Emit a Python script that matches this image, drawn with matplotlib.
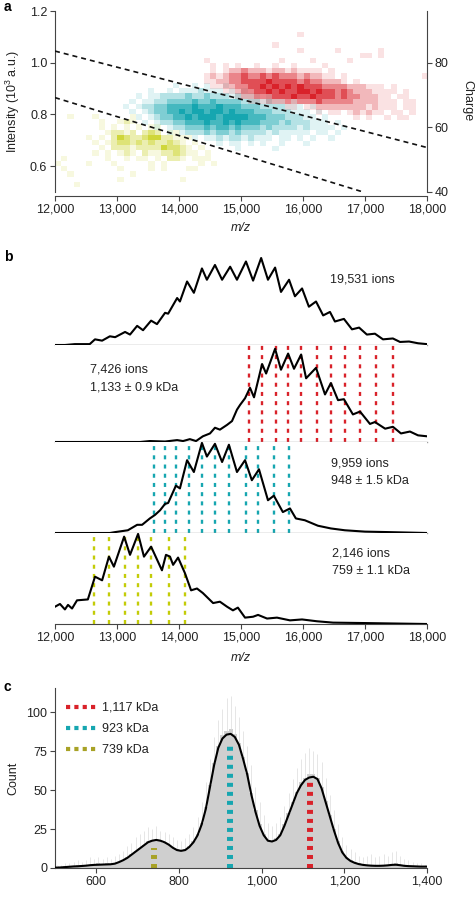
import numpy as np
import matplotlib
matplotlib.use('Agg')
import matplotlib.pyplot as plt
from matplotlib.colors import to_rgb
from matplotlib.lines import Line2D
from matplotlib.ticker import FuncFormatter

plt.rcParams['font.family'] = ['Liberation Sans', 'DejaVu Sans']
plt.rcParams['font.size'] = 9
plt.rcParams['mathtext.fontset'] = 'custom'
plt.rcParams['mathtext.rm'] = 'Liberation Sans'
plt.rcParams['mathtext.it'] = 'Liberation Sans:italic'

RED = '#d9222a'
CYAN = '#16a6b0'
YELLOW = '#c3cc08'
OLIVE = '#a8a226'
AXIS_GREY = '#444444'
SEP_GREY = '#a0a0a0'
TEXT = '#222222'

# --- Step 1: panel a data (2D ion density, one digit per 100 m/z x 0.02 cell, '.' = empty)
red_mz0, red_top = 14400, 1.12
red_density = [
    "...............1",
    "",
    "...........1",
    "...............1.....1......1",
    ".........................11.1",
    "1...........1....1.....1",
    ".1.1.1..1..1..1....1",
    ".1.1223222122121111.1",
    "121233433434333232211.1............1",
    "11223344445444434332221.1",
    ".1122334454545454443333222111.1",
    "...1123344545445545443432221111.1",
    ".....1223334445445444343322211.11",
    ".......111222323334333332222111.11",
    ".............11.112222222212111.11",
    "..................1.11.121211.11.1",
    "........................1.1..1.11",
]
cyan_mz0, cyan_top = 13000, 0.92
cyan_density = [
    ".........1..1.1..1",
    ".....1..1.1112111.1.1",
    "...1.112222322322212111.1",
    "..1.11223333433433332221211.1",
    ".1.122334444544454443332222111.1",
    "..1.123344545545545444333222111.1",
    "...1.123344545554555544433322211.1",
    "....1.1223344454454544433323222111.1",
    "......1.122333434434333232222121111.1",
    "........1.122232332322221211111.11.1",
    "............1.11212212111.11.1.1..1",
    "................1.11.1.1..1...1",
    "...................1.....1",
]
yellow_mz0, yellow_top = 12000, 0.80
yellow_density = [
    "..1...1.....1",
    ".......1..121",
    ".......1.1.1.1.11",
    "........12212.232.11",
    ".....1.1.2432234422111",
    "......1.1233232322321.1",
    ".......1.2221222243321.1",
    "......1.1.121.211223211.1",
    ".1......1..1.11.1.221.111",
    "1....1...1.....1.1.....1.1",
    ".1........1....1.1...11",
    "..1.........1",
    "..........1.........1",
    "...1",
]
# dashed mass boundaries (m/z, intensity end points)
upper_cut_mz = [12000, 18000]
upper_cut_int = [1.045, 0.672]
lower_cut_mz = [12000, 16970]
lower_cut_int = [0.865, 0.50]

# --- Step 2: panel b spectra (m/z, normalised intensity)
total_mz = [12000, 12160, 12320, 12560, 12645, 12760, 12885, 12970, 13130, 13210,
            13325, 13420, 13550, 13645, 13775, 13825, 13970, 14015, 14130, 14240,
            14370, 14450, 14580, 14695, 14825, 14935, 15080, 15195, 15325, 15435,
            15550, 15645, 15775, 15870, 15985, 16095, 16210, 16325, 16435, 16515,
            16660, 16790, 16905, 17030, 17160, 17290, 17450, 17565, 17710, 17855, 18000]
total_int = [0, 0, 0.01, 0.01, 0.065, 0.05, 0.10, 0.09, 0.15, 0.12,
             0.22, 0.17, 0.28, 0.24, 0.37, 0.36, 0.54, 0.50, 0.73, 0.60,
             0.88, 0.75, 0.92, 0.75, 0.90, 0.75, 0.96, 0.74, 1.0, 0.75,
             0.89, 0.61, 0.75, 0.56, 0.65, 0.44, 0.50, 0.34, 0.38, 0.27,
             0.30, 0.18, 0.20, 0.12, 0.13, 0.065, 0.075, 0.035, 0.04, 0.02, 0.01]

red_mz = [12000, 13370, 13530, 13775, 13970, 14065, 14175, 14275, 14385, 14500,
          14580, 14660, 14775, 14855, 14935, 14985, 15065, 15145, 15210, 15340,
          15405, 15550, 15645, 15760, 15855, 15970, 16050, 16210, 16355, 16450,
          16565, 16660, 16805, 16920, 17080, 17160, 17325, 17450, 17580, 17725, 17855, 18000]
red_int = [0, 0, 0.01, 0.005, 0.02, 0.01, 0.03, 0.01, 0.06, 0.09,
           0.15, 0.13, 0.18, 0.22, 0.34, 0.39, 0.46, 0.57, 0.47, 0.82,
           0.72, 0.98, 0.76, 0.93, 0.77, 0.92, 0.67, 0.78, 0.50, 0.62,
           0.44, 0.45, 0.29, 0.32, 0.19, 0.21, 0.14, 0.16, 0.09, 0.11, 0.07, 0.06]

cyan_mz = [12000, 12885, 12970, 13175, 13325, 13405, 13530, 13615, 13695, 13775,
           13825, 13950, 14015, 14130, 14240, 14370, 14450, 14580, 14695, 14805,
           14935, 15065, 15175, 15290, 15435, 15530, 15675, 15790, 15885, 16030,
           16240, 16450, 16675, 17000, 17370, 18000]
cyan_int = [0, 0, 0.01, 0.03, 0.09, 0.09, 0.16, 0.20, 0.25, 0.32,
            0.33, 0.52, 0.49, 0.80, 0.67, 0.99, 0.84, 0.98, 0.78, 0.97,
            0.67, 0.80, 0.58, 0.70, 0.36, 0.41, 0.23, 0.27, 0.16, 0.14,
            0.08, 0.05, 0.03, 0.015, 0.01, 0]

yellow_mz = [12000, 12080, 12160, 12210, 12275, 12355, 12530, 12645, 12760, 12870,
             12950, 13115, 13210, 13340, 13435, 13550, 13725, 13790, 13855, 13905,
             13985, 14095, 14195, 14290, 14385, 14550, 14660, 14775, 14870, 14950,
             15065, 15195, 15275, 15420, 15580, 15790, 15985, 16225, 16485, 17030, 18000]
yellow_int = [0.19, 0.22, 0.16, 0.21, 0.17, 0.26, 0.27, 0.52, 0.48, 0.74,
              0.63, 0.96, 0.76, 0.99, 0.74, 0.85, 0.59, 0.76, 0.74, 0.65,
              0.73, 0.56, 0.37, 0.39, 0.34, 0.23, 0.245, 0.19, 0.15, 0.18,
              0.07, 0.08, 0.10, 0.06, 0.07, 0.04, 0.05, 0.03, 0.015, 0.01, 0]

# charge-state positions marked with dotted lines
red_states = [15137, 15339, 15557, 15766, 15968, 16218, 16444, 16670, 16920, 17170, 17452]
cyan_states = [13602, 13774, 13952, 14166, 14366, 14581, 14807, 15076, 15279, 15532, 15779]
yellow_states = [12634, 12876, 13129, 13344, 13548, 13839, 14097]

ion_labels = ['19,531 ions', '7,426 ions', '9,959 ions', '2,146 ions']
mass_labels = [None, '1,133 ± 0.9 kDa', '948 ± 1.5 kDa', '759 ± 1.1 kDa']

# --- Step 3: panel c mass histogram (10 kDa bins from 500 to 1400)
hist_edges = np.arange(500, 1401, 10)
hist_counts = [1, 0, 1, 1, 1, 2, 1, 2, 2, 2,
               3, 2, 3, 2, 3, 4, 5, 7, 9, 11,
               13, 15, 17, 18, 18, 17, 16, 15, 13, 12,
               11, 12, 14, 17, 22, 29, 39, 53, 67, 78,
               85, 88, 89, 86, 80, 71, 61, 48, 37, 28,
               22, 18, 17, 19, 22, 28, 35, 42, 49, 55,
               58, 60, 60, 58, 52, 43, 34, 25, 17, 11,
               7, 5, 4, 3, 2, 2, 2, 1, 2, 2,
               2, 2, 3, 2, 1, 1, 1, 1, 1, 1]
hist_max = [2, 2, 3, 3, 4, 5, 4, 5, 7, 6,
            7, 6, 7, 6, 8, 9, 11, 14, 16, 20,
            22, 24, 26, 25, 27, 24, 23, 22, 20, 18,
            17, 19, 22, 26, 33, 42, 55, 70, 84, 95,
            102, 109, 110, 104, 97, 88, 78, 66, 52, 42,
            34, 29, 27, 29, 33, 40, 48, 57, 64, 70,
            74, 77, 75, 73, 68, 58, 47, 37, 28, 20,
            15, 12, 10, 8, 7, 8, 9, 7, 8, 9,
            8, 10, 11, 8, 6, 5, 4, 3, 3, 2]
fit_count = [0.2, 0.4, 0.6, 0.8, 1.0, 1.1, 1.3, 1.5, 1.8, 2.0,
             2.1, 2.2, 2.3, 2.4, 2.8, 3.8, 5.0, 6.5, 8.5, 10.5,
             12.5, 14.5, 16.5, 17.5, 18.0, 17.5, 16.5, 15.0, 13.0, 11.5,
             11.0, 11.5, 13.5, 16.5, 21, 28, 38, 52, 66, 77,
             83, 85.5, 86, 84, 79, 70, 60, 47, 36, 27,
             21, 17.5, 17, 18, 21, 27, 34, 41, 48, 53,
             56.5, 58, 58.5, 57, 51, 42, 33, 24, 16, 10,
             6.5, 4.5, 3.3, 2.5, 2.0, 1.7, 1.5, 1.4, 1.4, 1.5,
             1.7, 2.0, 2.1, 1.8, 1.4, 1.2, 1.1, 1.0, 0.9, 0.9]
species_mass = [1117, 923, 739]
species_height = [57, 81, 13]
species_labels = ['1,117 kDa', '923 kDa', '739 kDa']
species_colors = [RED, CYAN, OLIVE]

# --- Step 4: helpers
W, H = 477, 900
LEVEL_ALPHA = [0.0, 0.13, 0.32, 0.55, 0.8, 1.0]
comma_fmt = FuncFormatter(lambda v, p: f'{v:,.0f}')


def box(x0, y0, x1, y1):
    # pixel rectangle (top-left origin) -> figure fraction
    return [x0 / W, 1 - y1 / H, (x1 - x0) / W, (y1 - y0) / H]


def style_axis(ax):
    ax.tick_params(direction='out', length=3.5, width=0.8, color=AXIS_GREY,
                   labelcolor=TEXT, pad=2, labelsize=9)
    for sp in ax.spines.values():
        sp.set_color(AXIS_GREY)
        sp.set_linewidth(0.8)


def draw_density(ax, rows, mz0, top, color, mz_step=100, int_step=0.02):
    ncol = max(len(r) for r in rows)
    img = np.zeros((len(rows), ncol, 4))
    img[..., :3] = to_rgb(color)
    for i, row in enumerate(rows):
        for j, ch in enumerate(row.ljust(ncol, '.')):
            if ch != '.':
                img[i, j, 3] = LEVEL_ALPHA[int(ch)]
    ax.imshow(img, extent=(mz0, mz0 + ncol * mz_step, top - len(rows) * int_step, top),
              aspect='auto', interpolation='nearest', origin='upper', zorder=2)


fig = plt.figure(figsize=(W / 100, H / 100), dpi=100)

# --- Step 5: panel a
ax_a = fig.add_axes(box(55, 11, 427, 192))
draw_density(ax_a, yellow_density, yellow_mz0, yellow_top, YELLOW)
draw_density(ax_a, cyan_density, cyan_mz0, cyan_top, CYAN)
draw_density(ax_a, red_density, red_mz0, red_top, RED)
ax_a.plot(upper_cut_mz, upper_cut_int, color='#111111', lw=1.2, dashes=(3.0, 2.4), zorder=3)
ax_a.plot(lower_cut_mz, lower_cut_int, color='#111111', lw=1.2, dashes=(3.0, 2.4), zorder=3)
ax_a.set_xlim(12000, 18000)
ax_a.set_ylim(0.5, 1.2)
ax_a.set_xticks(range(12000, 18001, 1000))
ax_a.xaxis.set_major_formatter(comma_fmt)
ax_a.set_yticks([0.6, 0.8, 1.0, 1.2])
ax_a.yaxis.set_major_formatter(FuncFormatter(lambda v, p: f'{v:.1f}'))
style_axis(ax_a)
ax_a.spines['top'].set_visible(False)
ax_a.spines['right'].set_visible(False)
ax_a.spines['bottom'].set_position(('outward', 3))

ax_z = ax_a.twinx()
ax_z.set_ylim(40, 96)
ax_z.set_yticks([40, 60, 80])
style_axis(ax_z)
for side in ['top', 'left', 'bottom']:
    ax_z.spines[side].set_visible(False)

fig.text(13 / W, 1 - 101 / H, 'Intensity (10$^3$ a.u.)', rotation=90,
         ha='center', va='center', color=TEXT)
fig.text(467 / W, 1 - 101 / H, 'Charge', rotation=270, ha='center', va='center', color=TEXT)
fig.text(241 / W, 1 - 228 / H, 'm/z', style='italic', ha='center', va='center', color=TEXT)

# --- Step 6: panel b, four stacked spectra
bands = [(248, 345, 1.115), (345, 442, 1.02), (442, 533, 1.0), (533, 624, 1.0)]
curves = [(total_mz, total_int), (red_mz, red_int), (cyan_mz, cyan_int), (yellow_mz, yellow_int)]
markers = [(None, None), (red_states, RED), (cyan_states, CYAN), (yellow_states, YELLOW)]
label_pos = [(330, 280), (90, 370), (331, 464), (332, 554)]

for k, ((y0, y1, top), (mz, inten), (states, col)) in enumerate(zip(bands, curves, markers)):
    ax = fig.add_axes(box(55, y0, 427, y1))
    ax.set_xlim(12000, 18000)
    ax.set_ylim(0, top)
    if states is not None:
        ax.vlines(states, 0, top, colors=col, lw=1.7, linestyles=(0, (1.7, 2.2)), zorder=1)
    ax.plot(mz, inten, color='black', lw=1.5, solid_joinstyle='round', zorder=3)
    style_axis(ax)
    for side in ['top', 'left', 'right']:
        ax.spines[side].set_visible(False)
    ax.set_yticks([])
    if k < 3:
        ax.spines['bottom'].set_color(SEP_GREY)
        ax.spines['bottom'].set_linewidth(1.0)
        ax.set_xticks([])
    else:
        ax.set_xticks(range(12000, 18001, 1000))
        ax.xaxis.set_major_formatter(comma_fmt)
    lx, ly = label_pos[k]
    fig.text(lx / W, 1 - ly / H, ion_labels[k], va='center', color=TEXT)
    if mass_labels[k]:
        fig.text(lx / W, 1 - (ly + 17) / H, mass_labels[k], va='center', color=TEXT)

fig.text(241 / W, 1 - 658 / H, 'm/z', style='italic', ha='center', va='center', color=TEXT)

# --- Step 7: panel c, mass histogram with fit
ax_c = fig.add_axes(box(55, 688, 427, 868))
centers = (hist_edges[:-1] + hist_edges[1:]) / 2
ax_c.bar(centers, hist_counts, width=10, color='#cfcfcf', linewidth=0, zorder=1)
ax_c.vlines(centers, hist_counts, hist_max, colors='#e2e2e2', lw=0.6, zorder=1)
ax_c.vlines(species_mass, 0, species_height, colors=species_colors, lw=4.3,
            linestyles=(0, (0.67, 0.84)), zorder=2)
ax_c.plot(np.concatenate([[500], centers, [1400]]),
          np.concatenate([[fit_count[0]], fit_count, [fit_count[-1]]]),
          color='black', lw=1.5, zorder=3)
ax_c.set_xlim(500, 1400)
ax_c.set_ylim(0, 115.4)
ax_c.set_xticks([600, 800, 1000, 1200, 1400])
ax_c.xaxis.set_major_formatter(comma_fmt)
ax_c.set_yticks([0, 25, 50, 75, 100])
style_axis(ax_c)
ax_c.spines['top'].set_visible(False)
ax_c.spines['right'].set_visible(False)

handles = [Line2D([], [], color=c, lw=3, dashes=(1, 1)) for c in species_colors]
ax_c.legend(handles, species_labels, loc='upper left', bbox_to_anchor=(66 / W, 1 - 702 / H),
            bbox_transform=fig.transFigure, frameon=False, handlelength=2.5,
            handletextpad=0.35, labelspacing=0.72, borderpad=0, borderaxespad=0,
            labelcolor=TEXT)
fig.text(13 / W, 1 - 778 / H, 'Count', rotation=90, ha='center', va='center', color=TEXT)

# --- Step 8: panel letters
for letter, y in [('a', 7), ('b', 257), ('c', 687)]:
    fig.text(4 / W, 1 - y / H, letter, fontweight='bold', fontsize=10, va='center', color='black')

fig.savefig('out.png', dpi=100)
